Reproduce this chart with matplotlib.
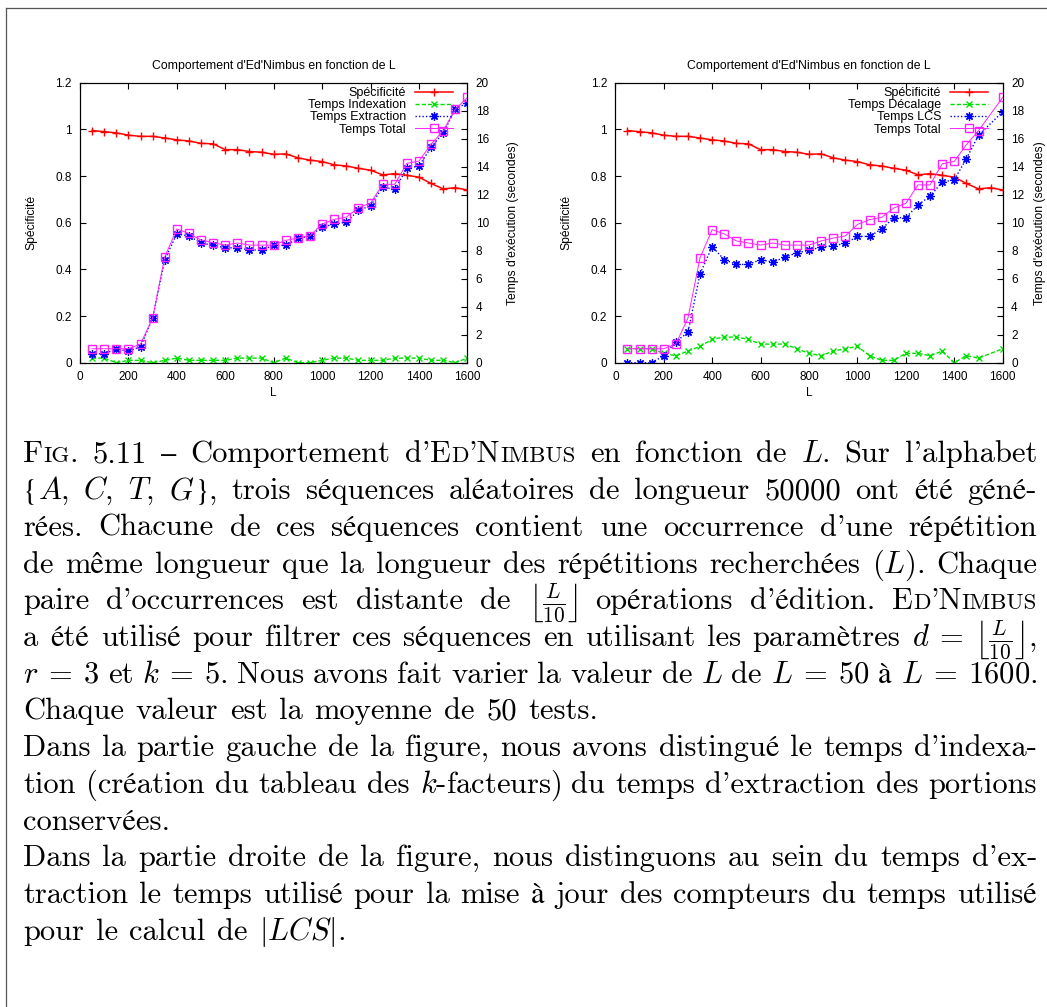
import numpy as np
import matplotlib
matplotlib.use('Agg')
import matplotlib.pyplot as plt
from matplotlib.ticker import FormatStrFormatter, MultipleLocator
from matplotlib.lines import Line2D
from matplotlib.transforms import IdentityTransform

plt.rcParams['font.family'] = ['Liberation Sans', 'DejaVu Sans']
plt.rcParams['mathtext.fontset'] = 'cm'

# ---- data ----
L_left = [50, 100, 150, 200, 250, 300, 350, 400, 450, 500, 550, 600, 650, 700, 750, 800,
          850, 900, 950, 1000, 1050, 1100, 1150, 1200, 1250, 1300, 1350, 1400, 1450, 1500, 1550, 1600]
specificite = [0.995, 0.99, 0.985, 0.975, 0.97, 0.97, 0.963, 0.955, 0.95, 0.94, 0.938, 0.913,
               0.913, 0.905, 0.902, 0.893, 0.895, 0.878, 0.868, 0.862, 0.848, 0.843, 0.833, 0.825,
               0.805, 0.81, 0.803, 0.795, 0.768, 0.745, 0.75, 0.74]
t_indexation = [0.33, 0.33, 0, 0.17, 0.17, 0, 0.17, 0.33, 0.17, 0.17, 0.17, 0.17, 0.33, 0.33, 0.33, 0,
                0.33, 0, 0, 0.17, 0.33, 0.33, 0.17, 0.17, 0.17, 0.33, 0.33, 0.33, 0.17, 0.17, 0, 0.33]
t_extraction = [0.64, 0.64, 0.98, 0.83, 1.14, 3.19, 7.36, 9.21, 9.05, 8.55, 8.38, 8.21, 8.21, 8.05,
                8.05, 8.38, 8.38, 8.88, 9.05, 9.71, 9.88, 10.05, 10.88, 11.21, 12.55, 12.38, 13.88,
                14.05, 15.38, 16.4, 18.1, 18.57]
t_total_left = [1.0, 1.0, 1.0, 1.0, 1.33, 3.19, 7.55, 9.55, 9.24, 8.76, 8.57, 8.4, 8.55, 8.4, 8.4, 8.4,
                8.74, 8.9, 9.07, 9.9, 10.24, 10.4, 11.07, 11.4, 12.74, 12.74, 14.24, 14.4, 15.6,
                16.57, 18.1, 18.95]

L_right = [50, 100, 150, 200, 250, 300, 350, 400, 450, 500, 550, 600, 650, 700, 750, 800,
           850, 900, 950, 1000, 1050, 1100, 1150, 1200, 1250, 1300, 1350, 1400, 1450, 1500, 1600]
t_decalage = [1.0, 1.0, 1.0, 0.67, 0.5, 0.83, 1.17, 1.67, 1.83, 1.83, 1.67, 1.33, 1.33, 1.33, 1.0,
              0.67, 0.5, 0.83, 1.0, 1.17, 0.5, 0.17, 0.17, 0.67, 0.67, 0.5, 0.83, 0, 0.5, 0.33, 1.0]
t_lcs = [0, 0, 0, 0.5, 1.5, 2.17, 6.36, 8.29, 7.36, 7.02, 7.02, 7.36, 7.19, 7.52, 7.86, 8.02, 8.26,
         8.36, 8.52, 9.02, 9.02, 9.55, 10.36, 10.36, 11.26, 11.9, 12.9, 13.07, 14.57, 16.24, 17.93]
t_total_right = [1.0, 1.0, 1.0, 1.0, 1.33, 3.19, 7.5, 9.5, 9.2, 8.7, 8.55, 8.4, 8.55, 8.4, 8.4, 8.4,
                 8.7, 8.9, 9.05, 9.88, 10.22, 10.38, 11.05, 11.38, 12.7, 12.7, 14.2, 14.38, 15.57,
                 16.57, 18.95]

titre = "Comportement d'Ed'Nimbus en fonction de L"

W, H = 1047, 1007
fig = plt.figure(figsize=(W / 100, H / 100), dpi=100, facecolor='w')

FS = 8.5


def panel(x0, lbl2, t2, lbl3, t3, L2, tot, y2pos):
    ax = fig.add_axes([x0, 0.6398, 0.37, 0.2781])
    ax2 = ax.twinx()
    h1, = ax.plot(L_left, specificite, color='#ff0000', lw=1.1, marker='+', ms=6, mew=1,
                  label='Spécificité')
    h2, = ax2.plot(L2, t2, color='#00e000', lw=1, ls=(0, (3, 1.5)), marker='x', ms=5, mew=1,
                   label=lbl2)
    h3, = ax2.plot(L2, t3, color='#0000ff', lw=1, ls=(0, (1, 1.5)), marker=(8, 2, 0), ms=6,
                   mew=0.9, label=lbl3)
    h4, = ax2.plot(L2, tot, color='#ff22ff', lw=0.7, marker='s', ms=6, mfc='none', mew=1,
                   label='Temps Total')
    ax.set_xlim(0, 1600)
    ax.set_ylim(0, 1.2)
    ax2.set_ylim(0, 20)
    ax.xaxis.set_major_locator(MultipleLocator(200))
    ax.yaxis.set_major_locator(MultipleLocator(0.2))
    ax.yaxis.set_major_formatter(FormatStrFormatter('%g'))
    ax2.yaxis.set_major_locator(MultipleLocator(2))
    ax.tick_params(direction='in', length=4, top=True, right=True, labelsize=FS, pad=6)
    ax2.tick_params(direction='in', length=4, labelsize=FS, pad=6)
    ax.set_title(titre, fontsize=8.8, pad=10)
    ax.set_xlabel('L', fontsize=FS)
    ax.xaxis.set_label_coords(0.5, -0.085)
    ax.set_ylabel('Spécificité', fontsize=8.75)
    ax.yaxis.set_label_coords(-0.11, 0.5)
    ax2.set_ylabel("Temps d'exécution (secondes)", fontsize=8.75)
    ax2.yaxis.set_label_coords(y2pos, 0.5)
    ax2.legend([h1, h2, h3, h4], [h.get_label() for h in (h1, h2, h3, h4)],
               loc='upper right', bbox_to_anchor=(0.962, 0.985), markerfirst=False,
               frameon=False, fontsize=9, handlelength=3.0, handletextpad=0.75,
               labelspacing=0.02, borderaxespad=0, borderpad=0)
    return ax


panel(0.0764, 'Temps Indexation', t_indexation, 'Temps Extraction', t_extraction, L_left,
      t_total_left, 1.103)
panel(0.5877, 'Temps Décalage', t_decalage, 'Temps LCS', t_lcs, L_right, t_total_right, 1.08)

# frame of the figure box (top and left edges only visible)
fig.add_artist(Line2D([5.5 / W, 5.5 / W], [0, 1 - 7.5 / H], transform=fig.transFigure,
                      color='#555555', lw=0.9))
fig.add_artist(Line2D([5.5 / W, 1], [1 - 7.5 / H, 1 - 7.5 / H], transform=fig.transFigure,
                      color='#555555', lw=0.9))

# ---- caption, justified line by line ----
cap_lines = [
    "§Fig.§ 5.11 – Comportement d'§Ed'Nimbus§ en fonction de $L$. Sur l'alphabet",
    "{$A$, $C$, $T$, $G$}, trois séquences aléatoires de longueur 50000 ont été géné-",
    "rées. Chacune de ces séquences contient une occurrence d'une répétition",
    "de même longueur que la longueur des répétitions recherchées ($L$). Chaque",
    "paire d'occurrences est distante de $\\left\\lfloor\\frac{L}{10}\\right\\rfloor$ opérations d'édition. §Ed'Nimbus§",
    "a été utilisé pour filtrer ces séquences en utilisant les paramètres $d\\:=\\:\\left\\lfloor\\frac{L}{10}\\right\\rfloor$,",
    "$r\\:=\\:3$ et $k\\:=\\:5$. Nous avons fait varier la valeur de $L$ de $L\\:=\\:50$ à $L\\:=\\:1600$.",
    "Chaque valeur est la moyenne de 50 tests.",
    "Dans la partie gauche de la figure, nous avons distingué le temps d'indexa-",
    "tion (création du tableau des $k$-facteurs) du temps d'extraction des portions",
    "conservées.",
    "Dans la partie droite de la figure, nous distinguons au sein du temps d'ex-",
    "traction le temps utilisé pour la mise à jour des compteurs du temps utilisé",
    "pour le calcul de $|LCS|$.",
]
cap_justify = [True, True, True, True, True, True, True, False,
               True, True, False, True, True, False]

CAP_FONT = ['cmr10', 'STIXGeneral', 'DejaVu Serif']
BRACE_FONT = ['STIXGeneral']
CAP_SIZE = 22
SC = 0.75
X_LEFT, X_RIGHT = 23, 1037
Y_FIRST, LEADING = 462.5, 36.7


def tokens(line):
    out, cur, math = [], '', False
    for ch in line:
        if ch == '$':
            math = not math
        if ch == ' ' and not math:
            if cur:
                out.append(cur)
            cur = ''
        else:
            cur += ch
    if cur:
        out.append(cur)
    return out


def plain_runs(p):
    # braces outside math come from STIX, cmr10 has no text braces
    out, cur, math = [], '', False
    for ch in p:
        if ch == '$':
            math = not math
        if ch in '{}' and not math:
            if cur:
                out.append((cur, 1.0, CAP_FONT))
            cur = ''
            out.append((ch, 1.0, BRACE_FONT))
        else:
            cur += ch
    if cur:
        out.append((cur, 1.0, CAP_FONT))
    return out


def pieces(tok):
    res = []
    for i, p in enumerate(tok.split('§')):
        if not p:
            continue
        if i % 2 == 0:
            res += plain_runs(p)
            continue
        buf, small = '', None
        for ch in p:
            s = ch.islower()
            if small is not None and s != small:
                res.append((buf.upper(), SC if small else 1.0, CAP_FONT))
                buf = ''
            buf += ch
            small = s
        res.append((buf.upper(), SC if small else 1.0, CAP_FONT))
    return res


renderer = fig.canvas.get_renderer()
probe = fig.text(0, 0, 'a a', fontsize=CAP_SIZE, family=CAP_FONT)
probe2 = fig.text(0, 0, 'aa', fontsize=CAP_SIZE, family=CAP_FONT)
space_w = (probe.get_window_extent(renderer).width - probe2.get_window_extent(renderer).width) * 1.15
probe.remove()
probe2.remove()

for i, (line, just) in enumerate(zip(cap_lines, cap_justify)):
    y = H - (Y_FIRST + i * LEADING)
    words = []
    for tok in tokens(line):
        parts = []
        for s, k, fam in pieces(tok):
            t = fig.text(0, y, s, fontsize=CAP_SIZE * k, family=fam, va='baseline',
                         transform=IdentityTransform())
            parts.append((t, t.get_window_extent(renderer).width))
        words.append(parts)
    widths = [sum(w for _, w in parts) for parts in words]
    if just and len(words) > 1:
        gap = (X_RIGHT - X_LEFT - sum(widths)) / (len(words) - 1)
    else:
        gap = space_w
    x = X_LEFT
    for parts, wd in zip(words, widths):
        xx = x
        for t, w in parts:
            t.set_x(xx)
            xx += w
        x += wd + gap

fig.savefig('out.png', dpi=100, facecolor='w')
